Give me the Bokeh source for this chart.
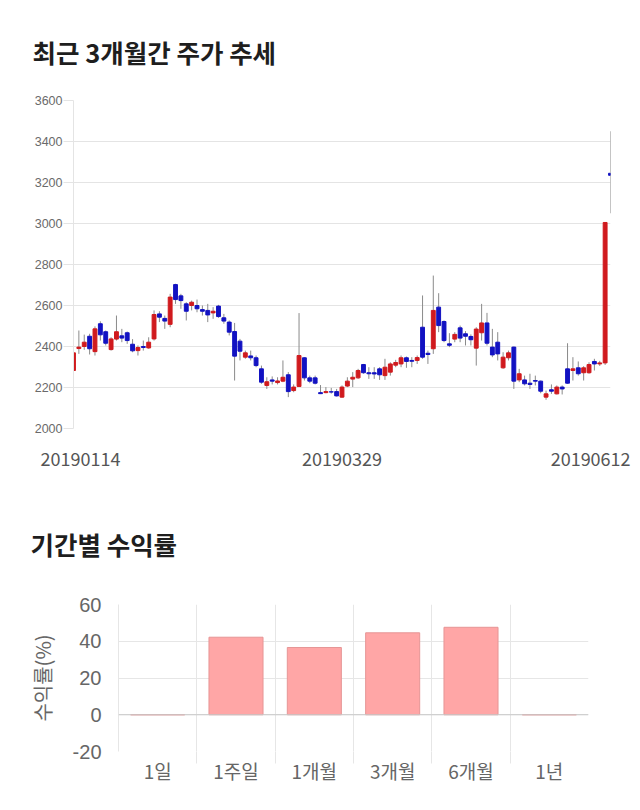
from bokeh.plotting import figure
from bokeh.models import FixedTicker, Span, Range1d, ColumnDataSource
from bokeh.embed import file_html
from bokeh.resources import INLINE

# ---------------- data ----------------
tick_dates = ["20190114", "20190329", "20190612"]

opens = [2283, 2390, 2400, 2450, 2375, 2511, 2472, 2385, 2436, 2452,
         2467, 2411, 2380, 2400, 2393, 2437, 2559, 2537, 2508, 2702,
         2647, 2608, 2600, 2600, 2580, 2576, 2564, 2597, 2540, 2519,
         2473, 2426, 2348, 2354, 2345, 2291, 2210, 2237, 2224, 2231,
         2262, 2185, 2205, 2345, 2247, 2247, 2175, 2175, 2179, 2180,
         2153, 2207, 2241, 2247, 2312, 2272, 2272, 2291, 2258, 2275,
         2309, 2315, 2345, 2332, 2332, 2494, 2367, 2389, 2592, 2522,
         2413, 2436, 2491, 2462, 2449, 2392, 2467, 2515, 2397, 2421,
         2296, 2345, 2397, 2237, 2237, 2221, 2234, 2231, 2153, 2189,
         2169, 2202, 2291, 2283, 2296, 2272, 2272, 2327, 2315, 2320,
         3245]
highs = [2681, 2478, 2458, 2462, 2498, 2523, 2478, 2445, 2551, 2486,
         2473, 2436, 2405, 2429, 2445, 2576, 2572, 2551, 2657, 2706,
         2657, 2616, 2624, 2629, 2600, 2608, 2592, 2603, 2559, 2527,
         2515, 2437, 2380, 2380, 2356, 2307, 2250, 2254, 2250, 2332,
         2275, 2215, 2563, 2348, 2258, 2258, 2212, 2202, 2198, 2193,
         2210, 2250, 2275, 2291, 2315, 2299, 2299, 2299, 2340, 2323,
         2335, 2356, 2351, 2348, 2356, 2649, 2380, 2746, 2660, 2527,
         2465, 2470, 2502, 2475, 2459, 2494, 2608, 2564, 2486, 2470,
         2372, 2380, 2400, 2291, 2258, 2267, 2258, 2234, 2185, 2215,
         2210, 2210, 2416, 2348, 2327, 2304, 2323, 2340, 2330, 3005,
         3450]
lows = [2283, 2364, 2384, 2361, 2356, 2429, 2405, 2380, 2429, 2421,
        2413, 2372, 2356, 2380, 2389, 2429, 2519, 2486, 2494, 2608,
        2584, 2527, 2576, 2567, 2551, 2519, 2535, 2540, 2511, 2454,
        2234, 2332, 2340, 2332, 2299, 2218, 2193, 2215, 2215, 2226,
        2153, 2177, 2205, 2234, 2221, 2215, 2168, 2172, 2170, 2156,
        2150, 2202, 2202, 2242, 2267, 2242, 2242, 2237, 2237, 2258,
        2299, 2299, 2296, 2299, 2315, 2340, 2315, 2364, 2470, 2421,
        2397, 2421, 2421, 2405, 2405, 2307, 2429, 2405, 2348, 2332,
        2291, 2332, 2193, 2226, 2210, 2193, 2210, 2172, 2140, 2169,
        2166, 2166, 2218, 2234, 2258, 2234, 2267, 2283, 2305, 2310,
        3050]
closes = [2369, 2397, 2421, 2389, 2486, 2457, 2416, 2437, 2472, 2441,
          2429, 2379, 2395, 2395, 2421, 2556, 2543, 2524, 2641, 2629,
          2624, 2572, 2616, 2584, 2572, 2554, 2572, 2546, 2524, 2470,
          2353, 2377, 2369, 2345, 2307, 2226, 2228, 2231, 2232, 2250,
          2180, 2202, 2356, 2247, 2231, 2221, 2170, 2180, 2178, 2159,
          2202, 2231, 2250, 2283, 2272, 2267, 2266, 2262, 2299, 2315,
          2322, 2345, 2327, 2328, 2346, 2348, 2361, 2576, 2502, 2429,
          2406, 2459, 2441, 2450, 2433, 2485, 2515, 2416, 2359, 2364,
          2348, 2369, 2231, 2267, 2218, 2215, 2231, 2182, 2169, 2182,
          2202, 2193, 2221, 2291, 2267, 2296, 2312, 2315, 2320, 3005,
          3235]

periods = ["1일", "1주일", "1개월", "3개월", "6개월", "1년"]
returns = [0.0, 42.2, 36.6, 44.6, 47.6, 0.0]

# ---------------- chart 1: candles ----------------
n = len(opens)
idx = list(range(n))
src = ColumnDataSource(dict(
    x=idx, o=opens, h=highs, l=lows, c=closes,
    top=[max(a, b) for a, b in zip(opens, closes)],
    bot=[min(a, b) for a, b in zip(opens, closes)],
    color=["#d01a1e" if c >= o else "#1212c2" for o, c in zip(opens, closes)],
))

p1 = figure(width=640, height=478, output_backend="svg", toolbar_location=None,
            x_range=Range1d(0, n - 1), y_range=Range1d(2000, 3600),
            min_border_left=73, min_border_right=30, min_border_top=100,
            min_border_bottom=50, title="최근 3개월간 주가 추세")
p1.outline_line_color = None
p1.title.text_font = "Noto Sans CJK KR"
p1.title.text_font_size = "25.5px"
p1.title.text_font_style = "bold"
p1.title.text_color = "#1e1e1e"
p1.title.align = "left"
p1.title.offset = -41
p1.title.standoff = 61

p1.segment("x", "h", "x", "l", source=src, line_color="#8a8a8a", line_width=1)
p1.vbar(x="x", top="top", bottom="bot", width=0.72, source=src,
        fill_color="color", line_color="color", line_width=1)

yt = FixedTicker(ticks=[2000, 2200, 2400, 2600, 2800, 3000, 3200, 3400, 3600])
p1.yaxis.ticker = yt
p1.ygrid.ticker = yt
p1.ygrid.grid_line_color = "#e4e4e4"
p1.xgrid.grid_line_color = None
p1.yaxis.axis_line_color = "#e4e4e4"
p1.yaxis.major_tick_line_color = "#e4e4e4"
p1.yaxis.major_tick_out = 10
p1.yaxis.major_tick_in = 0
p1.yaxis.minor_tick_line_color = None
p1.yaxis.major_label_standoff = 1
p1.yaxis.major_label_text_font = "Liberation Sans"
p1.yaxis.major_label_text_font_size = "12.5px"
p1.yaxis.major_label_text_color = "#6a6a6a"

xpos = [1.3, (n - 1) / 2, n - 1 - 3.7]
p1.xaxis.ticker = FixedTicker(ticks=xpos)
p1.xaxis.major_label_overrides = {pos: lab for pos, lab in zip(xpos, tick_dates)}
p1.xaxis.axis_line_color = None
p1.xaxis.major_tick_line_color = None
p1.xaxis.minor_tick_line_color = None
p1.xaxis.major_label_standoff = 17
p1.xaxis.major_label_text_font = "Noto Sans CJK KR"
p1.xaxis.major_label_text_font_size = "18px"
p1.xaxis.major_label_text_color = "#555555"

# ---------------- chart 2: returns ----------------
p2 = figure(width=640, height=328, output_backend="svg", toolbar_location=None,
            x_range=Range1d(0, len(periods)), y_range=Range1d(-20, 60),
            min_border_left=118, min_border_right=52, min_border_top=126,
            min_border_bottom=55, title="기간별 수익률")
p2.outline_line_color = None
p2.title.text_font = "Noto Sans CJK KR"
p2.title.text_font_size = "25.5px"
p2.title.text_font_style = "bold"
p2.title.text_color = "#1e1e1e"
p2.title.align = "left"
p2.title.offset = -88
p2.title.standoff = 86

bx = [i + 0.5 for i in range(len(periods))]
p2.vbar(x=bx, top=returns, bottom=0, width=0.69,
        fill_color="#ffa6a6", line_color="#e69595", line_width=1)

yt2 = FixedTicker(ticks=[-20, 0, 20, 40, 60])
p2.yaxis.ticker = yt2
p2.ygrid.ticker = yt2
p2.yaxis.major_label_overrides = {-20: "-20"}
p2.ygrid.grid_line_color = "#e6e6e6"
p2.yaxis.axis_line_color = "#e6e6e6"
p2.yaxis.major_tick_line_color = None
p2.yaxis.minor_tick_line_color = None
p2.yaxis.major_label_standoff = 11
p2.yaxis.major_label_text_font = "Liberation Sans"
p2.yaxis.major_label_text_font_size = "20px"
p2.yaxis.major_label_text_color = "#666666"
p2.yaxis.axis_label = "수익률(%)"
p2.yaxis.axis_label_text_font = "Noto Sans CJK KR"
p2.yaxis.axis_label_text_font_size = "20px"
p2.yaxis.axis_label_text_font_style = "normal"
p2.yaxis.axis_label_text_color = "#666666"
p2.yaxis.axis_label_standoff = 13

xt2 = FixedTicker(ticks=bx, minor_ticks=[1, 2, 3, 4, 5])
p2.xaxis.ticker = xt2
p2.xgrid.ticker = xt2
p2.xaxis.major_label_overrides = {pos: lab for pos, lab in zip(bx, periods)}
p2.xgrid.grid_line_color = None
p2.xgrid.minor_grid_line_color = "#e6e6e6"
p2.xaxis.axis_line_color = None
p2.xaxis.major_tick_line_color = None
p2.xaxis.minor_tick_line_color = "#e6e6e6"
p2.xaxis.minor_tick_out = 12
p2.xaxis.minor_tick_in = 0
p2.xaxis.major_label_standoff = -7
p2.xaxis.major_label_text_font = "Noto Sans CJK KR"
p2.xaxis.major_label_text_font_size = "19px"
p2.xaxis.major_label_text_color = "#666666"

p2.add_layout(Span(location=0, dimension="width", line_color="#c8c8c8", line_width=1))

open("out.html", "w").write(file_html([p1, p2], INLINE))
